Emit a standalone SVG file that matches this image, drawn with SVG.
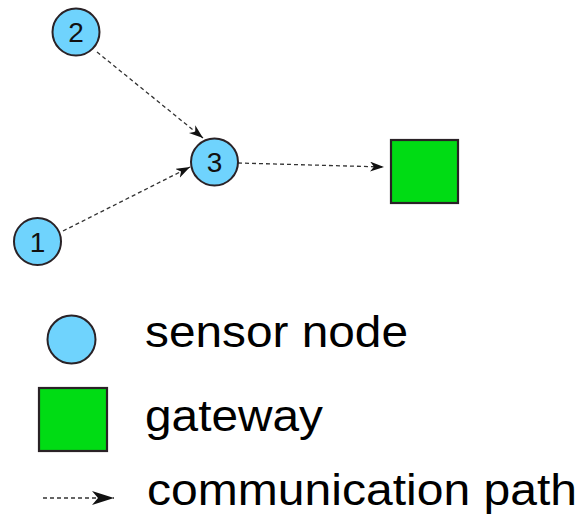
<svg xmlns="http://www.w3.org/2000/svg" width="584" height="515" viewBox="0 0 584 515">
<style>
.sensor{fill:#6fd3fd;stroke:#2a2226;stroke-width:2}
.gw{fill:#00dc14;stroke:#2a2226;stroke-width:2.2}
.num{font-family:"Liberation Sans",Arial,sans-serif;font-size:28px;fill:#111;text-anchor:middle}
.lbl{font-family:"Liberation Sans",Arial,sans-serif;font-size:45px;fill:#000}
.edge{fill:none;stroke:#333;stroke-width:1.3;stroke-dasharray:4 3}
</style>
<defs>
<marker id="ah" markerUnits="userSpaceOnUse" markerWidth="16" markerHeight="12" refX="14" refY="5" orient="auto">
<path d="M0,0 L14,5 L0,10 L4,5 z" fill="#111"/>
</marker>
<marker id="ahL" markerUnits="userSpaceOnUse" markerWidth="26" markerHeight="16" refX="22" refY="7" orient="auto">
<path d="M0,0 L22,7 L0,14 L6,7 z" fill="#111"/>
</marker>
</defs>
<g id="connectors">
<line class="edge" x1="97" y1="52" x2="203" y2="138" marker-end="url(#ah)"/>
<line class="edge" x1="63" y1="231" x2="190" y2="167" marker-end="url(#ah)"/>
<line class="edge" x1="238" y1="163" x2="384" y2="167" marker-end="url(#ah)"/>
</g>
<g id="node2"><circle class="sensor" cx="76" cy="32" r="23.5"/><text class="num" x="76" y="42">2</text></g>
<g id="node3"><circle class="sensor" cx="214.5" cy="162" r="23.5"/><text class="num" x="214.5" y="172">3</text></g>
<g id="node1"><circle class="sensor" cx="37.5" cy="241.5" r="23.5"/><text class="num" x="37.5" y="251.5">1</text></g>
<g id="gateway"><rect class="gw" x="391" y="140" width="67" height="63"/></g>
<g id="legend">
<ellipse class="sensor" cx="71.5" cy="339.5" rx="24" ry="24"/>
<text class="lbl" x="145" y="347" textLength="263" lengthAdjust="spacingAndGlyphs">sensor node</text>
<rect class="gw" x="39" y="388" width="68" height="63"/>
<text class="lbl" x="145" y="431" textLength="178" lengthAdjust="spacingAndGlyphs">gateway</text>
<line class="edge" x1="43" y1="498" x2="114" y2="498" marker-end="url(#ahL)"/>
<text class="lbl" x="147" y="505" textLength="430" lengthAdjust="spacingAndGlyphs">communication path</text>
</g>
</svg>
